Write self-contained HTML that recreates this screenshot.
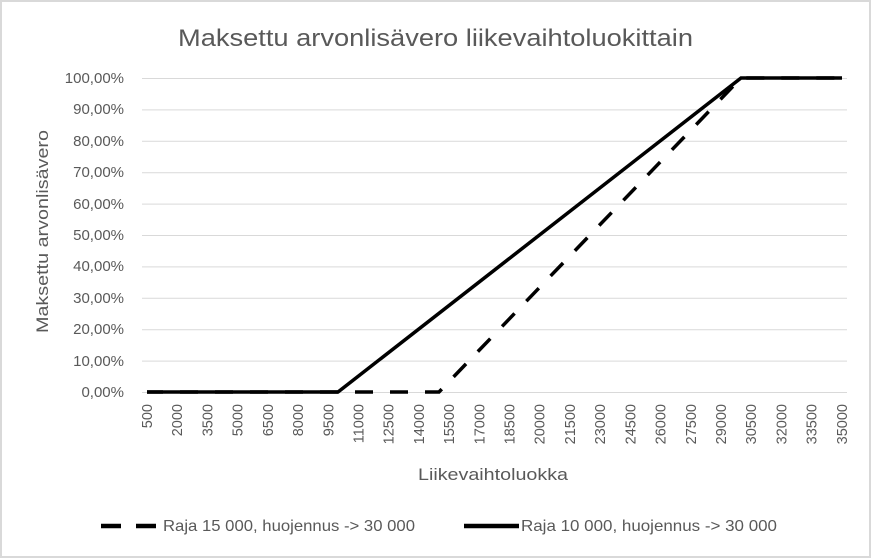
<!DOCTYPE html>
<html><head><meta charset="utf-8"><style>
body{margin:0;background:#fff}
svg{display:block}
text{font-family:"Liberation Sans",sans-serif;fill:#595959}
</style></head><body>
<svg width="871" height="558" xmlns="http://www.w3.org/2000/svg">
<rect x="1" y="1" width="869" height="556" fill="#fff" stroke="#d9d9d9" stroke-width="2"/>
<text x="178" y="46" font-size="24" textLength="515" lengthAdjust="spacingAndGlyphs">Maksettu arvonlisävero liikevaihtoluokittain</text>
<g stroke="#d9d9d9" stroke-width="1">
<line x1="142" x2="847" y1="78.5" y2="78.5"/>
<line x1="142" x2="847" y1="109.9" y2="109.9"/>
<line x1="142" x2="847" y1="141.3" y2="141.3"/>
<line x1="142" x2="847" y1="172.7" y2="172.7"/>
<line x1="142" x2="847" y1="204.1" y2="204.1"/>
<line x1="142" x2="847" y1="235.5" y2="235.5"/>
<line x1="142" x2="847" y1="266.9" y2="266.9"/>
<line x1="142" x2="847" y1="298.3" y2="298.3"/>
<line x1="142" x2="847" y1="329.7" y2="329.7"/>
<line x1="142" x2="847" y1="361.1" y2="361.1"/>
<line x1="142" x2="847" y1="392.5" y2="392.5"/>
</g>
<g font-size="15" text-anchor="end">
<text x="124" y="83">100,00%</text>
<text x="124" y="114">90,00%</text>
<text x="124" y="146">80,00%</text>
<text x="124" y="177">70,00%</text>
<text x="124" y="209">60,00%</text>
<text x="124" y="240">50,00%</text>
<text x="124" y="271">40,00%</text>
<text x="124" y="303">30,00%</text>
<text x="124" y="334">20,00%</text>
<text x="124" y="366">10,00%</text>
<text x="124" y="397">0,00%</text>
</g>
<g font-size="14.5" text-anchor="end" id="xl"></g>
<text x="418" y="480" font-size="17" textLength="150" lengthAdjust="spacingAndGlyphs">Liikevaihtoluokka</text>
<text transform="translate(48,333) rotate(-90)" font-size="17" textLength="203" lengthAdjust="spacingAndGlyphs">Maksettu arvonlisävero</text>
<path d="M147,392 L439,392 L741,78 L842,78" fill="none" stroke="#000" stroke-width="3.5" stroke-dasharray="18,17" stroke-dashoffset="2"/>
<path d="M147,392 L338,392 L741,78 L842,78" fill="none" stroke="#000" stroke-width="3.5"/>
<line x1="101" y1="526" x2="121" y2="526" stroke="#000" stroke-width="4.5"/>
<line x1="136" y1="526" x2="156" y2="526" stroke="#000" stroke-width="4.5"/>
<text x="163" y="531" font-size="16" textLength="252" lengthAdjust="spacingAndGlyphs">Raja 15 000, huojennus -&gt; 30 000</text>
<line x1="464" y1="526" x2="519" y2="526" stroke="#000" stroke-width="4.5"/>
<text x="521" y="531" font-size="16" textLength="256" lengthAdjust="spacingAndGlyphs">Raja 10 000, huojennus -&gt; 30 000</text>
</svg>
<script>
var g=document.getElementById('xl'),s='';
for(var i=0;i<24;i++){var v=500+i*1500;var x=147+i*3*10.07+5;
s+='<text transform="translate('+x.toFixed(1)+',404) rotate(-90)">'+v+'</text>';}
g.innerHTML=s;
</script>
</body></html>
